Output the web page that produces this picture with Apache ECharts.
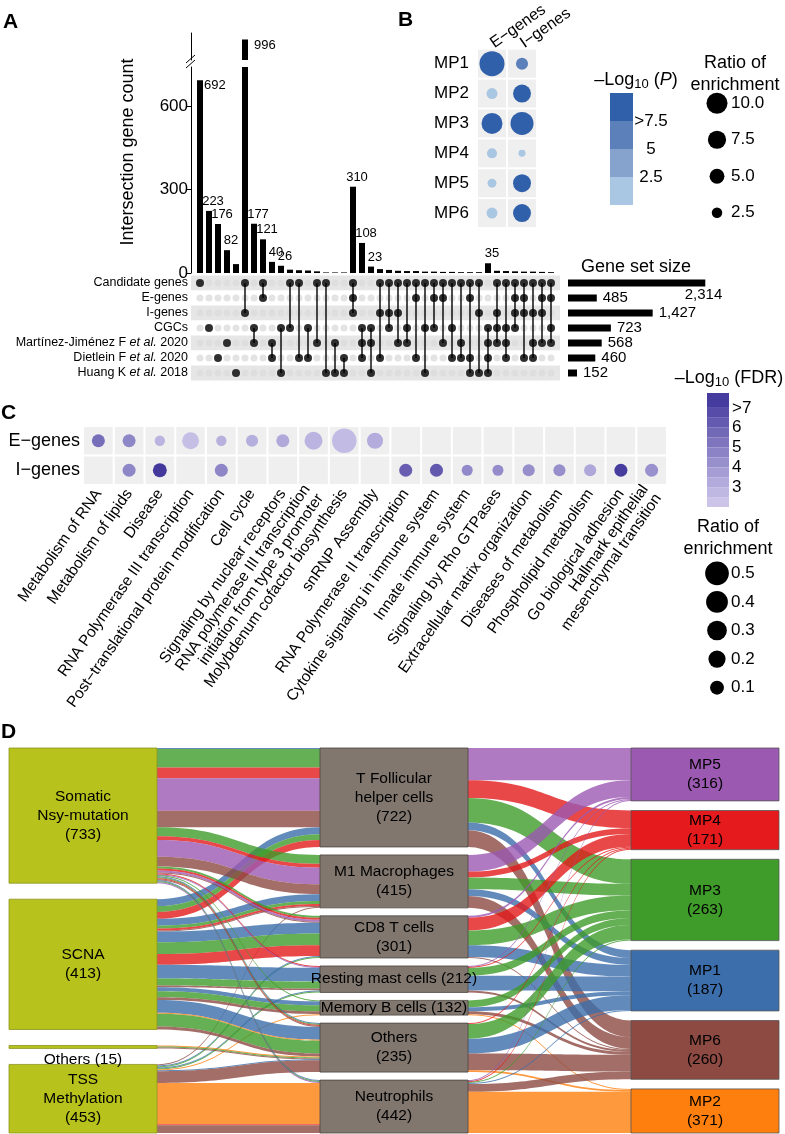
<!DOCTYPE html>
<html><head><meta charset="utf-8">
<script src="https://cdn.jsdelivr.net/npm/echarts@6/dist/echarts.min.js"></script>
<style>html,body{margin:0;padding:0;background:#fff}#c{width:785px;height:1134px}</style>
</head><body><div id="c"></div>
<script>
// ---------------- Panel A: UpSet ----------------
const intersectionCounts = [692,223,176,82,32,996,177,121,40,26,12,10,9,6,2,2,2,310,108,23,14,11,8,7,7,5,5,4,4,3,3,3,35,8,7,6,5,5,4,3];
const labelledColumns = [0,1,2,3,5,6,7,8,9,17,18,19,32];
const setNames = ['Candidate genes','E-genes','I-genes','CGCs','Martínez-Jiménez F et al. 2020','Dietlein F et al. 2020','Huang K et al. 2018'];
const setSizes = [2314,485,1427,723,568,460,152];
const columnSets = [[0],[3],[5],[4],[6],[0,2],[3,4],[0,1],[4,5],[3,6],[0,3],[0,5],[3,5],[0,4],[0,6],[4,6],[5,6],[0,1,2],[3,4,5],[3,4,6],[0,2,5],[0,2,3],[0,2,4],[0,3,4],[0,1,5],[0,3,6],[0,1,3],[0,1,4],[0,3,5],[0,4,5],[0,1,5,6],[0,2,6],[3,4,5,6],[0,2,3,4],[0,3,4,5],[0,1,2,3],[0,1,2,5],[0,2,4,5],[0,1,2,4],[0,1,3,4]];
const countTicks = [0,300,600];

// ---------------- Panel B ----------------
const mpNames = ['MP1','MP2','MP3','MP4','MP5','MP6'];
const geneGroups = ['E−genes','I−genes'];
const mpRatioE = [14.2,2.7,10.0,2.3,1.8,2.7];
const mpRatioI = [3.3,7.3,12.0,1.1,7.3,7.3];
const mpLogPE = [9,2,9,2,2,2];
const mpLogPI = [6,9,9,2,9,9];
const pLegendTicks = [2.5,5,7.5];
const ratioLegendB = [10.0,7.5,5.0,2.5];

// ---------------- Panel C ----------------
const pathways = ['Metabolism of RNA','Metabolism of lipids','Disease','RNA Polymerase III transcription','Post−translational protein modification','Cell cycle','Signaling by nuclear receptors','RNA polymerase III transcription\ninitiation from type 3 promoter','Molybdenum cofactor biosynthesis','snRNP Assembly','RNA Polymerase II transcription','Cytokine signaling in immune system','Innate immune system','Signaling by Rho GTPases','Extracellular matrix organization','Diseases of metabolism','Phospholipid metabolism','Go biological adhesion','Hallmark epithelial\nmesenchymal transition'];
const ratioE = [0.08,0.08,0.03,0.19,0.03,0.06,0.08,0.23,0.55,0.16,null,null,null,null,null,null,null,null,null];
const fdrE   = [5.5,4.6,2.9,2.5,3.0,3.1,3.3,2.9,2.6,3.2,null,null,null,null,null,null,null,null,null];
const ratioI = [null,0.08,0.10,null,0.08,null,null,null,null,null,0.08,0.08,0.04,0.04,0.06,0.06,0.06,0.08,0.08];
const fdrI   = [null,4.6,7.6,null,4.6,null,null,null,null,null,6.1,6.3,4.5,4.4,4.3,4.3,3.4,7.4,4.2];
const fdrTicks = [3,4,5,6,7];
const fdrBandEdges = [2,2.5,3,3.5,4,4.5,5,5.5,6,6.5,7,7.75];
const ratioLegendC = [0.5,0.4,0.3,0.2,0.1];

// ---------------- Panel D: Sankey ----------------
const leftNodes = ['Somatic Nsy-mutation','SCNA','Others (15)','TSS Methylation'];
const leftLabels = ['Somatic\nNsy-mutation\n(733)','SCNA\n(413)','Others (15)','TSS\nMethylation\n(453)'];
const midNodes = ['T Follicular helper cells','M1 Macrophages','CD8 T cells','Resting mast cells','Memory B cells','Others','Neutrophils'];
const midLabels = ['T Follicular\nhelper cells\n(722)','M1 Macrophages\n(415)','CD8 T cells\n(301)','Resting mast cells (212)','Memory B cells (132)','Others\n(235)','Neutrophils\n(442)'];
const mpNodes = ['MP5','MP4','MP3','MP1','MP6','MP2'];
const mpCounts = [316,171,263,187,260,371];
const mpColors = {MP5:'#9b59b1',MP4:'#e41a1c',MP3:'#3f9b2a',MP1:'#3b6eab',MP6:'#8c4a42',MP2:'#ff7f0e'};
// [left index, middle index, MP, flow]
const flows = [
 [0,0,'MP1',1],[0,0,'MP3',19],[0,0,'MP4',11],[0,0,'MP5',33],[0,0,'MP6',17],
 [1,0,'MP1',7],[1,0,'MP3',6],[1,0,'MP4',7],
 [0,1,'MP3',9],[0,1,'MP4',4],[0,1,'MP5',17],[0,1,'MP6',10],
 [1,1,'MP1',7],[1,1,'MP3',3],[1,1,'MP4',2],[1,1,'MP6',1],
 [3,1,'MP6',1],
 [0,2,'MP3',2],[0,2,'MP4',2],[0,2,'MP5',2],[0,2,'MP6',1],
 [1,2,'MP1',11],[1,2,'MP3',12],[1,2,'MP4',11],
 [3,2,'MP1',1],[3,2,'MP3',1],
 [0,3,'MP4',1],[0,3,'MP5',1],
 [1,3,'MP1',14],[1,3,'MP3',7],[1,3,'MP6',2],
 [3,3,'MP1',1],[3,3,'MP3',1],
 [0,4,'MP3',1],
 [1,4,'MP1',4],[1,4,'MP3',6],[1,4,'MP6',3],
 [3,4,'MP2',1],
 [0,5,'MP1',1],[0,5,'MP3',1],[0,5,'MP4',1],[0,5,'MP6',1],
 [1,5,'MP1',13],[1,5,'MP2',1],[1,5,'MP3',13],[1,5,'MP6',3],
 [2,5,'MP2',1],[2,5,'MP3',1],[2,5,'MP6',1],
 [3,5,'MP1',1],[3,5,'MP6',12],
 [0,6,'MP1',1],[0,6,'MP3',1],[0,6,'MP5',1],
 [3,6,'MP2',42],[3,6,'MP4',1],[3,6,'MP6',8]
];

// ---------------- helpers ----------------
const FONT = '"Liberation Sans", Arial, Helvetica, sans-serif';
const pBandColors = ['#a9c6e2','#86a3cd','#5b80ba','#3060a9'];
function pColor(v){ return v>7.5?pBandColors[3]:v>5?pBandColors[2]:v>2.5?pBandColors[1]:pBandColors[0]; }
function fdrColor(v){
  const t = Math.max(0, Math.min(1, (v-2)/5.5));
  const a=[210,204,237], b=[67,57,157];
  const c=a.map((x,i)=>Math.round(x+(b[i]-x)*t));
  return 'rgb('+c.join(',')+')';
}
const sizeB = v => 6.64*Math.sqrt(v);
const sizeC = v => 6 + 25*Math.sqrt(v);

const chart = echarts.init(document.getElementById('c'));

// bars
const barLower = intersectionCounts.map((v,i)=>{
  const item = {value:[i,v]};
  if (labelledColumns.includes(i) && v < 740) {
    item.label = v > 600
      ? {show:true, position:['100%',0], align:'left', verticalAlign:'middle', offset:[1,5]}
      : {show:true, position:'top', distance:3, offset:[4,0]};
  }
  return item;
});
const barUpper = intersectionCounts.map((v,i)=>{
  const item = {value:[i,v]};
  if (labelledColumns.includes(i) && v >= 740) item.label = {show:true, position:['100%',0], align:'left', verticalAlign:'middle', offset:[6,6]};
  return item;
});
const emptyDots = [], filledDots = [], connectors = [];
columnSets.forEach((sets,i)=>{
  for (let r=0;r<setNames.length;r++) emptyDots.push([i,r]);
  sets.forEach(r=>filledDots.push([i,r]));
  if (sets.length>1) connectors.push([i, Math.min(...sets), Math.max(...sets)]);
});

// B
const tilesB=[]; const dotsB=[];
mpNames.forEach((m,i)=>{ tilesB.push([0,i]); tilesB.push([1,i]);
  dotsB.push([0,i,mpRatioE[i],mpLogPE[i]]); dotsB.push([1,i,mpRatioI[i],mpLogPI[i]]); });
// C
const tilesC=[]; const dotsC=[];
pathways.forEach((p,i)=>{ tilesC.push([i,0]); tilesC.push([i,1]);
  if (ratioE[i]!=null) dotsC.push([i,0,ratioE[i],fdrE[i]]);
  if (ratioI[i]!=null) dotsC.push([i,1,ratioI[i],fdrI[i]]); });

// Sankey: node totals, and spread each column to fill the layout height
const SK = {top:748, height:385, gap:8};
const totals = {};
flows.forEach(f=>{
  const v=f[3];
  totals[leftNodes[f[0]]]=(totals[leftNodes[f[0]]]||0)+v;
  totals[midNodes[f[1]]]=(totals[midNodes[f[1]]]||0)+v;
  totals[f[2]]=(totals[f[2]]||0)+v;
});
const columns = [leftNodes, midNodes, mpNodes];
const colSum = c => c.reduce((s,n)=>s+(totals[n]||0),0);
const ky = Math.min(...columns.map(c=>(SK.height-(c.length-1)*SK.gap)/colSum(c)));
const localY = {};
columns.forEach(c=>{
  const g = (SK.height - ky*colSum(c))/(c.length-1);
  let y=0; c.forEach(n=>{ localY[n]=y/SK.height; y+=ky*totals[n]+g; });
});
const sankeyNodes = [];
leftNodes.forEach(n=>sankeyNodes.push({name:n, localY:localY[n], itemStyle:{color:'#b7c31c', borderColor:'#8d9420', borderWidth:0.8},
  label: n==='Others (15)' ? {position:'bottom', distance:1} : undefined}));
midNodes.forEach(n=>sankeyNodes.push({name:n, localY:localY[n], itemStyle:{color:'#81776f', borderColor:'#4a4440', borderWidth:0.8}}));
mpNodes.forEach(n=>sankeyNodes.push({name:n, localY:localY[n], itemStyle:{color:mpColors[n], borderColor:'#555', borderWidth:0.8}}));
const labelMap = {};
leftNodes.forEach((n,i)=>labelMap[n]=leftLabels[i]);
midNodes.forEach((n,i)=>labelMap[n]=midLabels[i]);
mpNodes.forEach((n,i)=>labelMap[n]=n+'\n('+mpCounts[i]+')');
const sankeyLinks = [];
flows.forEach(f=>sankeyLinks.push({source:leftNodes[f[0]], target:midNodes[f[1]], value:f[3], lineStyle:{color:mpColors[f[2]]}}));
const agg = {};
flows.forEach(f=>{ const k=f[1]+'|'+f[2]; agg[k]=(agg[k]||0)+f[3]; });
midNodes.forEach((m,mi)=>mpNodes.forEach(mp=>{ const v=agg[mi+'|'+mp]; if(v) sankeyLinks.push({source:m, target:mp, value:v, lineStyle:{color:mpColors[mp]}}); }));

// legends
const pBandSeries = pBandColors.map((c,k)=>({type:'bar', xAxisIndex:6, yAxisIndex:6, stack:'p', barWidth:'100%', silent:true,
  itemStyle:{color:c}, data:[pLegendTicks[0]]}));
const fdrBandSeries = fdrBandEdges.slice(1).map((e,k)=>({type:'bar', xAxisIndex:8, yAxisIndex:8, stack:'f', barWidth:'100%', silent:true,
  itemStyle:{color:fdrColor((fdrBandEdges[k]+e)/2)}, data:[k===0 ? e : e-fdrBandEdges[k]]}));

const blk = '#000';
const hid = (gi, o) => Object.assign({gridIndex:gi, show:false}, o||{});
const nameFmt = v => { const k=v.indexOf(' et al. '); if(k<0) return '{n|'+v+'}'; return '{n|'+v.slice(0,k+1)+'}{i|et al.}{n|'+v.slice(k+7)+'}'; };

const option = {
  animation:false,
  textStyle:{fontFamily:FONT, color:blk},
  grid:[
    {left:191, top:67, width:369, height:206},   //0 bars lower
    {left:191, top:33, width:369, height:27},    //1 bars upper
    {left:191, top:275.5, width:369, height:105},//2 matrix
    {left:568, top:275.5, width:178, height:105},//3 set size
    {left:477, top:48, width:60, height:180},    //4 B
    {left:705, top:85, width:24, height:146},    //5 B size legend
    {left:610, top:93, width:23, height:112},    //6 B colour bar
    {left:83, top:426, width:584, height:59},    //7 C
    {left:707, top:393, width:22, height:114},   //8 C colour bar
    {left:705, top:559, width:24, height:143}    //9 C size legend
  ],
  xAxis:[
    hid(0,{type:'value', min:-1, max:40}),
    hid(1,{type:'value', min:-1, max:40}),
    hid(2,{type:'value', min:-1, max:40}),
    hid(3,{type:'value', min:0, max:3000}),
    {gridIndex:4, type:'category', data:geneGroups, position:'top', axisLine:{show:false}, axisTick:{show:false},
      axisLabel:{rotate:-35, align:'left', verticalAlign:'middle', interval:0, fontSize:16, color:blk, margin:4}},
    hid(5,{type:'category', data:['s']}),
    hid(6,{type:'category', data:['p']}),
    {gridIndex:7, type:'category', data:pathways, axisLine:{show:false}, axisTick:{show:false},
      axisLabel:{rotate:55, interval:0, fontSize:15.5, color:blk, margin:6, lineHeight:16}},
    hid(8,{type:'category', data:['f']}),
    hid(9,{type:'category', data:['s']})
  ],
  yAxis:[
    {gridIndex:0, type:'value', min:0, max:740, splitLine:{show:false},
      axisLine:{show:true, onZero:false, lineStyle:{color:blk}}, axisTick:{show:true, length:4, lineStyle:{color:blk}, customValues:countTicks},
      axisLabel:{fontSize:17, color:blk, margin:3, customValues:countTicks}},
    {gridIndex:1, type:'value', min:920, max:1020, splitLine:{show:false}, axisLine:{show:true, onZero:false, lineStyle:{color:blk}}, axisTick:{show:false}, axisLabel:{show:false}},
    {gridIndex:2, type:'category', data:setNames, inverse:true, axisLine:{show:false, onZero:false}, axisTick:{show:false},
      splitArea:{show:true, areaStyle:{color:['#e6e6e6','#ffffff']}},
      axisLabel:{interval:0, margin:3, formatter:nameFmt, rich:{n:{fontSize:12.5, color:blk}, i:{fontSize:12.5, color:blk, fontStyle:'italic'}}}},
    hid(3,{type:'category', data:setNames, inverse:true}),
    {gridIndex:4, type:'category', data:mpNames, inverse:true, axisLine:{show:false}, axisTick:{show:false}, axisLabel:{interval:0, fontSize:17, color:blk, margin:8}},
    {gridIndex:5, type:'category', data:ratioLegendB.map(v=>v.toFixed(1)), inverse:true, position:'right', axisLine:{show:false}, axisTick:{show:false}, axisLabel:{interval:0, fontSize:17, color:blk, margin:2}},
    {gridIndex:6, type:'value', min:0, max:10, position:'right', splitLine:{show:false}, axisLine:{show:false}, axisTick:{show:false},
      axisLabel:{customValues:pLegendTicks, formatter:v=>v===7.5?'>7.5':String(v), fontSize:17, color:blk, align:'center', margin:18}},
    {gridIndex:7, type:'category', data:['E−genes','I−genes'], inverse:true, axisLine:{show:false}, axisTick:{show:false}, axisLabel:{interval:0, fontSize:18, color:blk, margin:3}},
    {gridIndex:8, type:'value', min:2, max:7.75, position:'right', splitLine:{show:false}, axisLine:{show:false}, axisTick:{show:false},
      axisLabel:{customValues:fdrTicks, formatter:v=>v===7?'>7':String(v), fontSize:17, color:blk, margin:3}},
    {gridIndex:9, type:'category', data:ratioLegendC.map(v=>v.toFixed(1)), inverse:true, position:'right', axisLine:{show:false}, axisTick:{show:false}, axisLabel:{interval:0, fontSize:17, color:blk, margin:2}}
  ],
  series:[
    {type:'bar', xAxisIndex:0, yAxisIndex:0, barWidth:6, itemStyle:{color:blk}, data:barLower,
      label:{fontSize:13, color:blk, formatter:p=>p.value[1]}},
    {type:'bar', xAxisIndex:1, yAxisIndex:1, barWidth:6, itemStyle:{color:blk}, data:barUpper,
      label:{fontSize:13, color:blk, formatter:p=>p.value[1]}},
    {type:'scatter', xAxisIndex:2, yAxisIndex:2, symbolSize:7, itemStyle:{color:'#dcdcdc'}, data:emptyDots, silent:true, z:2},
    {type:'custom', xAxisIndex:2, yAxisIndex:2, data:connectors, encode:{x:0, y:[1,2]}, z:3, silent:true,
      renderItem:(params, api)=>{ const a=api.coord([api.value(0),api.value(1)]); const b=api.coord([api.value(0),api.value(2)]);
        return {type:'line', shape:{x1:a[0],y1:a[1],x2:b[0],y2:b[1]}, style:{stroke:blk, lineWidth:1.4}}; }},
    {type:'scatter', xAxisIndex:2, yAxisIndex:2, symbolSize:8, itemStyle:{color:blk}, data:filledDots, silent:true, z:4},
    {type:'bar', xAxisIndex:3, yAxisIndex:3, barWidth:7, itemStyle:{color:blk},
      data:setSizes.map((v,i)=> i===0 ? {value:v, label:{position:['100%','100%'], align:'right', verticalAlign:'top', offset:[17,1]}} : v),
      label:{show:true, position:'right', distance:6, fontSize:15, color:blk, formatter:p=>p.value.toLocaleString('en-US')}},
    {type:'scatter', xAxisIndex:4, yAxisIndex:4, symbol:'rect', symbolSize:[28,28], itemStyle:{color:'#ebebeb'}, data:tilesB, silent:true, z:1},
    {type:'scatter', xAxisIndex:4, yAxisIndex:4, data:dotsB, symbolSize:d=>sizeB(d[2]), itemStyle:{color:p=>pColor(p.data[3]), opacity:1}, z:3},
    {type:'scatter', xAxisIndex:5, yAxisIndex:5, data:ratioLegendB.map((v,i)=>[0,i,v]), symbolSize:d=>sizeB(d[2]), itemStyle:{color:blk, opacity:1}},
    ...pBandSeries,
    {type:'scatter', xAxisIndex:7, yAxisIndex:7, symbol:'rect', symbolSize:[28.7,27.5], itemStyle:{color:'#ebebeb'}, data:tilesC, silent:true, z:1},
    {type:'scatter', xAxisIndex:7, yAxisIndex:7, data:dotsC, symbolSize:d=>sizeC(d[2]), itemStyle:{color:p=>fdrColor(p.data[3]), opacity:1}, z:3},
    ...fdrBandSeries,
    {type:'scatter', xAxisIndex:9, yAxisIndex:9, data:ratioLegendC.map((v,i)=>[0,i,v]), symbolSize:d=>sizeC(d[2]), itemStyle:{color:blk, opacity:1}},
    {type:'sankey', left:9, top:SK.top, right:6, height:SK.height, nodeWidth:148, nodeGap:SK.gap, layoutIterations:0, draggable:false,
      emphasis:{disabled:true},
      label:{show:true, position:'inside', color:blk, fontSize:15.5, lineHeight:19, formatter:p=>labelMap[p.name]},
      lineStyle:{curveness:0.5, opacity:0.8},
      data:sankeyNodes, links:sankeyLinks}
  ],
  graphic:[
    {type:'text', x:3, y:22, style:{text:'A', fontSize:21, fontWeight:'bold', fontFamily:FONT, fill:blk, verticalAlign:'middle'}},
    {type:'text', x:398, y:20, style:{text:'B', fontSize:21, fontWeight:'bold', fontFamily:FONT, fill:blk, verticalAlign:'middle'}},
    {type:'text', x:1, y:413, style:{text:'C', fontSize:21, fontWeight:'bold', fontFamily:FONT, fill:blk, verticalAlign:'middle'}},
    {type:'text', x:1, y:732, style:{text:'D', fontSize:21, fontWeight:'bold', fontFamily:FONT, fill:blk, verticalAlign:'middle'}},
    {type:'text', x:128, y:152, rotation:Math.PI/2, style:{text:'Intersection gene count', fontSize:18, fontFamily:FONT, fill:blk, align:'center', verticalAlign:'middle'}},
    {type:'line', shape:{x1:186,y1:63,x2:195,y2:55}, style:{stroke:blk, lineWidth:1}},
    {type:'line', shape:{x1:186,y1:68,x2:195,y2:60}, style:{stroke:blk, lineWidth:1}},
    {type:'text', x:636, y:267, style:{text:'Gene set size', fontSize:18, fontFamily:FONT, fill:blk, align:'center', verticalAlign:'middle'}},
    {type:'text', x:636, y:80, style:{text:'{a|–Log}{s|10}{a| (}{i|P}{a|)}', fontFamily:FONT, fill:blk, align:'center', verticalAlign:'middle',
      rich:{a:{fontSize:18, lineHeight:22, fontFamily:FONT}, s:{fontSize:13, lineHeight:13, verticalAlign:'bottom', fontFamily:FONT}, i:{fontSize:18, lineHeight:22, fontStyle:'italic', fontFamily:FONT}}}},
    {type:'text', x:735, y:74, style:{text:'Ratio of\nenrichment', fontSize:18, lineHeight:22, fontFamily:FONT, fill:blk, align:'center', verticalAlign:'middle'}},
    {type:'text', x:729, y:378, style:{text:'{a|–Log}{s|10}{a| (FDR)}', fontFamily:FONT, fill:blk, align:'center', verticalAlign:'middle',
      rich:{a:{fontSize:18, lineHeight:22, fontFamily:FONT}, s:{fontSize:13, lineHeight:13, verticalAlign:'bottom', fontFamily:FONT}}}},
    {type:'text', x:728, y:538, style:{text:'Ratio of\nenrichment', fontSize:18, lineHeight:22, fontFamily:FONT, fill:blk, align:'center', verticalAlign:'middle'}}
  ]
};
chart.setOption(option);
</script></body></html>
